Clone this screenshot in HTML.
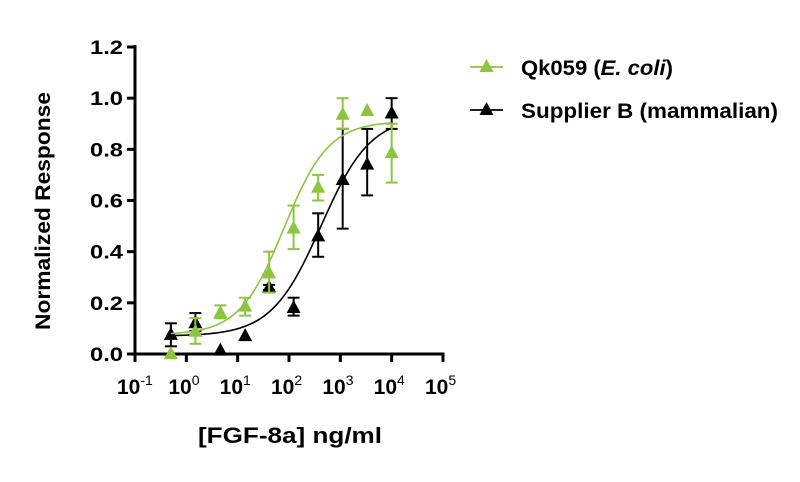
<!DOCTYPE html>
<html><head><meta charset="utf-8"><style>
body{margin:0;background:#fff}
svg{display:block;font-family:"Liberation Sans",sans-serif;font-weight:bold}
</style></head><body>
<svg id="chart" width="800" height="482" viewBox="0 0 800 482"></svg>
<script>
const doses=[0.5,1.5,4.6,14,41,123,370,1111,3333,10000];
const greenVals=[0.0,0.087,0.16,0.185,0.315,0.49,0.65,0.935,0.95,0.785];
const greenLo=[0.0,0.04,0.14,0.15,0.24,0.41,0.60,0.88,0.95,0.67];
const greenHi=[0.0,0.14,0.19,0.22,0.40,0.58,0.70,1.0,0.95,0.90];
const blackVals=[0.075,0.12,0.013,0.07,0.26,0.18,0.46,0.68,0.74,0.94];
const blackLo=[0.03,0.09,0.013,0.07,0.25,0.15,0.38,0.49,0.62,0.88];
const blackHi=[0.12,0.16,0.013,0.07,0.27,0.22,0.55,0.88,0.88,1.0];
const greenFit=[0.075,0.91,80,1.0];
const blackFit=[0.07,0.93,420,0.9];
const yTicks=["0.0","0.2","0.4","0.6","0.8","1.0","1.2"];
const xExps=[-1,0,1,2,3,4,5];
const NS="http://www.w3.org/2000/svg";
const svg=document.getElementById('chart');
const X0=135,X1=443,Y0=354,Y1=47;
const xs=v=>X0+(Math.log10(v)+1)/6*(X1-X0);
const ys=v=>Y0-v/1.2*(Y0-Y1);
function mk(t,a,p){const e=document.createElementNS(NS,t);for(const k in a)e.setAttribute(k,a[k]);(p||svg).appendChild(e);return e;}
const ax=mk('g',{});


mk('line',{x1:X0,y1:Y1-2,x2:X0,y2:Y0+1.5,stroke:'#000','stroke-width':3},ax);
mk('line',{x1:X0-1.5,y1:Y0,x2:X1+1.5,y2:Y0,stroke:'#000','stroke-width':3},ax);
yTicks.forEach((t,i)=>{const y=ys(i*0.2);
 mk('line',{x1:X0-8,y1:y,x2:X0,y2:y,stroke:'#000','stroke-width':3},ax);
 const tx=mk('text',{x:X0-12,y:y+7,'text-anchor':'end','font-size':19,textLength:33,lengthAdjust:'spacingAndGlyphs'},ax);tx.textContent=t;
 
 
});
xExps.forEach(e=>{const x=xs(Math.pow(10,e));
 mk('line',{x1:x,y1:Y0,x2:x,y2:Y0+8,stroke:'#000','stroke-width':3},ax);
 const tx=mk('text',{x:x-18,y:394,'font-size':21},ax);
 
 
 tx.textContent='10';
 const s=mk('tspan',{dy:-9,'font-size':14,'font-weight':'normal'},tx);s.textContent=String(e);
});
const yt=mk('text',{x:0,y:0,transform:'translate(50,211) rotate(-90)','text-anchor':'middle','font-size':21,textLength:238,lengthAdjust:'spacingAndGlyphs'});
yt.textContent='Normalized Response';


const xt=mk('text',{x:290,y:443,'text-anchor':'middle','font-size':22,textLength:184,lengthAdjust:'spacingAndGlyphs'});
xt.textContent='[FGF-8a] ng/ml';


function tri(x,y,c,p){return mk('polygon',{points:`${x},${y-8} ${x-7},${y+5} ${x+7},${y+5}`,fill:c},p);}
function series(vals,lo,hi,fit,color,name){
 const g=mk('g',{});
 
 
 let d='';const [b,t,ec,h]=fit;
 for(let i=0;i<=200;i++){const lx=Math.log10(doses[0])+i/200*(Math.log10(doses[doses.length-1])-Math.log10(doses[0]));
  const v=b+(t-b)/(1+Math.pow(10,(Math.log10(ec)-lx)*h));d+=(i?'L':'M')+xs(Math.pow(10,lx)).toFixed(2)+','+ys(v).toFixed(2);}
 const p=mk('path',{d:d,fill:'none',stroke:color,'stroke-width':1.6},g);
 
 
 doses.forEach((dv,i)=>{const x=xs(dv);
  if(hi[i]-lo[i]>0.005){
   const eb=mk('g',{stroke:color,'stroke-width':2},g);
   
   
   mk('line',{x1:x,y1:ys(hi[i]),x2:x,y2:ys(lo[i])},eb);
   mk('line',{x1:x-6,y1:ys(hi[i]),x2:x+6,y2:ys(hi[i])},eb);
   mk('line',{x1:x-6,y1:ys(lo[i]),x2:x+6,y2:ys(lo[i])},eb);
  }
  const m=tri(x,ys(vals[i]),color,g);
  
  
 });
}
series(blackVals,blackLo,blackHi,blackFit,'#000','supplier-b');
series(greenVals,greenLo,greenHi,greenFit,'#8cc63f','qk059');
function legend(y,color,label,name,italic,w){
 const g=mk('g',{});
 
 
 mk('line',{x1:470,y1:y,x2:503,y2:y,stroke:color,'stroke-width':1.8},g);
 tri(486.5,y,color,g);
 const t=mk('text',{x:521,y:y+8,'font-size':21,textLength:w,lengthAdjust:'spacingAndGlyphs'},g);
 t.appendChild(document.createTextNode(label));
 if(italic){const s=mk('tspan',{'font-style':'italic'},t);s.textContent=italic;t.appendChild(document.createTextNode(')'));}
}
legend(67,'#8cc63f','Qk059 (','qk059','E. coli',152);
legend(110,'#000','Supplier B (mammalian)','supplier-b',null,257);
</script>
</body></html>
